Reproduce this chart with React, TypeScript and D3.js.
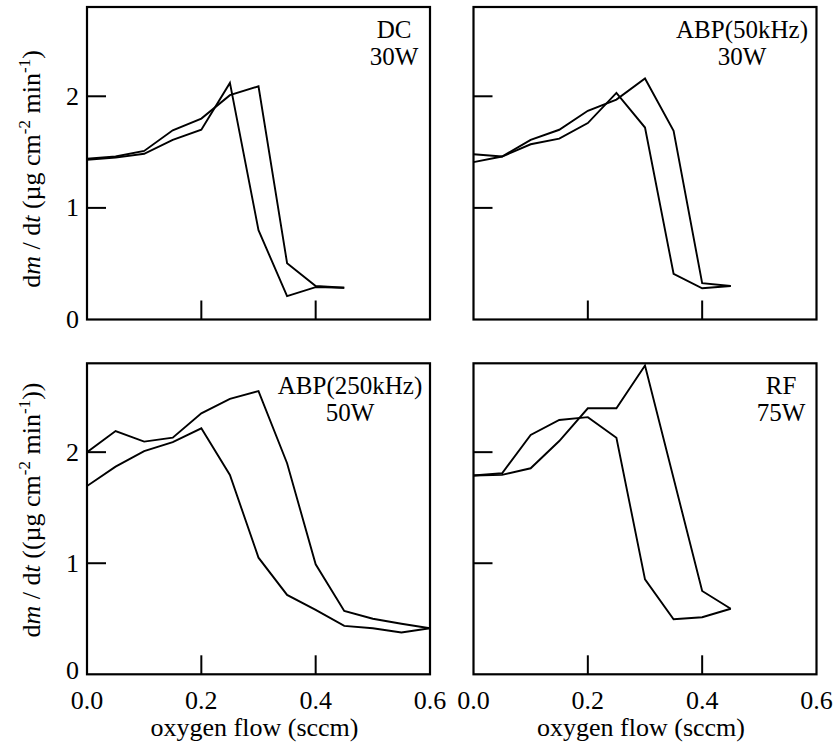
import React from "react";
import * as d3 from "d3";

const flow = [0, 0.05, 0.1, 0.15, 0.2, 0.25, 0.3, 0.35, 0.4, 0.45, 0.5, 0.55, 0.6];

// DC 30W
const dcA = [1.43, 1.45, 1.485, 1.61, 1.70, 2.12, 0.80, 0.21, 0.29, 0.285];
const dcB = [1.44, 1.46, 1.51, 1.695, 1.80, 2.01, 2.09, 0.505, 0.30, 0.285];
// ABP(50kHz) 30W
const abp50A = [1.41, 1.46, 1.57, 1.62, 1.76, 2.03, 1.72, 0.41, 0.28, 0.30];
const abp50B = [1.48, 1.46, 1.61, 1.70, 1.87, 1.97, 2.16, 1.69, 0.325, 0.30];
// ABP(250kHz) 50W
const abp250A = [2.0, 2.19, 2.095, 2.13, 2.35, 2.48, 2.55, 1.9, 0.99, 0.57, 0.5, 0.455, 0.415];
const abp250B = [1.695, 1.87, 2.01, 2.09, 2.215, 1.795, 1.05, 0.715, 0.58, 0.436, 0.415, 0.377, 0.415];
// RF 75W (no point read at 0.35 for the first run)
const rfA = [1.79, 1.795, 1.855, 2.1, 2.395, 2.395, 2.78, null, 0.75, 0.59];
const rfB = [1.79, 1.81, 2.155, 2.29, 2.315, 2.13, 0.855, 0.496, 0.514, 0.59];

const xTickLabels = ["0.0", "0.2", "0.4", "0.6"];
const xTickValues = [0, 0.2, 0.4, 0.6];
const xTickMarks = [0.2, 0.4];
const yTickValues = [0, 1, 2];
const yTickMarks = [1, 2];

const panelNames = [
  ["DC", "30W"],
  ["ABP(50kHz)", "30W"],
  ["ABP(250kHz)", "50W"],
  ["RF", "75W"],
];

const FONT = "Liberation Serif, Times New Roman, Times, DejaVu Serif, serif";
const TXT: React.CSSProperties = { fontFamily: FONT, fontSize: "26px" };
const LBL: React.CSSProperties = { fontFamily: FONT, fontSize: "25px" };

type Panel = {
  x0: number; y0: number; w: number; h: number;
  series: (number | null)[][];
  names: string[];
  labelCx: number;
  showY: boolean; showX: boolean;
};

const W = 343;
const panels: Panel[] = [
  { x0: 87, y0: 7, w: W, h: 312.5, series: [dcA, dcB], names: panelNames[0], labelCx: 394, showY: true, showX: false },
  { x0: 473.5, y0: 7, w: W, h: 312.5, series: [abp50A, abp50B], names: panelNames[1], labelCx: 742, showY: false, showX: false },
  { x0: 87, y0: 363.3, w: W, h: 311, series: [abp250A, abp250B], names: panelNames[2], labelCx: 350, showY: true, showX: true },
  { x0: 473.5, y0: 363.3, w: W, h: 311, series: [rfA, rfB], names: panelNames[3], labelCx: 781, showY: false, showX: true },
];

function YLabel({ cx, cy, paren }: { cx: number; cy: number; paren: boolean }) {
  return (
    <text transform={`translate(${cx},${cy}) rotate(-90)`} textAnchor="middle" style={TXT}>
      <tspan>d</tspan>
      <tspan fontStyle="italic">m</tspan>
      <tspan> / d</tspan>
      <tspan fontStyle="italic">t</tspan>
      <tspan>{paren ? " ((µg cm" : " (µg cm"}</tspan>
      <tspan style={{ fontSize: "17px" }} dy={-10}>-2</tspan>
      <tspan dy={10}> min</tspan>
      <tspan style={{ fontSize: "17px" }} dy={-10}>-1</tspan>
      <tspan dy={10}>{paren ? "))" : ")"}</tspan>
    </text>
  );
}

function PanelView({ p, idx }: { p: Panel; idx: number }) {
  const x = d3.scaleLinear().domain([0, 0.6]).range([p.x0, p.x0 + p.w]);
  const y = d3.scaleLinear().domain([0, 2.8]).range([p.y0 + p.h, p.y0]);
  const line = d3
    .line<[number, number]>()
    .x((d) => x(d[0]))
    .y((d) => y(d[1]));
  const toPts = (s: (number | null)[]) =>
    s
      .map((v, i) => [flow[i], v] as [number, number | null])
      .filter((d) => d[1] !== null) as [number, number][];
  const bottom = p.y0 + p.h;
  const tickLen = 19;
  return (
    <g>
      <defs>
        <clipPath id={`clip-${idx}`}>
          <rect x={p.x0} y={p.y0} width={p.w} height={p.h} />
        </clipPath>
      </defs>
      <g clipPath={`url(#clip-${idx})`}>
        {p.series.map((s, i) => (
          <path key={i} d={line(toPts(s)) || ""} fill="none" stroke="#000" strokeWidth={1.9} />
        ))}
      </g>
      {yTickMarks.map((v) => (
        <line key={"yt" + v} x1={p.x0} x2={p.x0 + tickLen} y1={y(v)} y2={y(v)} stroke="#000" strokeWidth={2} />
      ))}
      {xTickMarks.map((v) => (
        <line key={"xt" + v} x1={x(v)} x2={x(v)} y1={bottom} y2={bottom - tickLen} stroke="#000" strokeWidth={2} />
      ))}
      <rect x={p.x0} y={p.y0} width={p.w} height={p.h} fill="none" stroke="#000" strokeWidth={2.2} />
      {p.showY &&
        yTickValues.map((v) => (
          <text
            key={"yl" + v}
            x={79}
            y={y(v) + (v === 0 && p.showX ? -3.5 : 0)}
            dy="0.33em"
            textAnchor="end"
            style={TXT}
          >
            {String(v)}
          </text>
        ))}
      {p.showX &&
        xTickValues.map((v, i) => (
          <text key={"xl" + v} x={x(v)} y={bottom + 34.5} textAnchor="middle" style={TXT}>
            {xTickLabels[i]}
          </text>
        ))}
      {p.showX && (
        <text x={p.x0 + p.w / 2 - 4} y={735.5} textAnchor="middle" style={TXT}>
          oxygen flow (sccm)
        </text>
      )}
      <text x={p.labelCx} y={p.y0 + 30.5} textAnchor="middle" style={LBL}>
        {p.names[0]}
      </text>
      <text x={p.labelCx} y={p.y0 + 58} textAnchor="middle" style={LBL}>
        {p.names[1]}
      </text>
    </g>
  );
}

export default function App() {
  return (
    <svg
      width={836}
      height={746}
      viewBox="0 0 836 746"
      style={{ position: "absolute", left: 0, top: 0, background: "#fff" }}
    >
      <rect x={0} y={0} width={836} height={746} fill="#fff" />
      {panels.map((p, i) => (
        <PanelView key={i} p={p} idx={i} />
      ))}
      <YLabel cx={40} cy={169} paren={false} />
      <YLabel cx={40} cy={510} paren={true} />
    </svg>
  );
}
